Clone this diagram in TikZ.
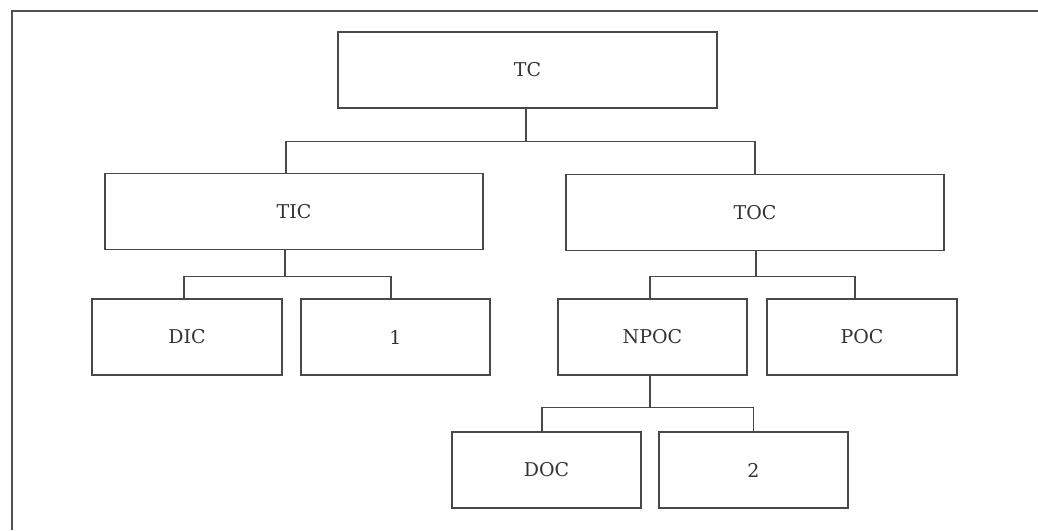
\documentclass[tikz,border=0pt]{standalone}
\usepackage{fontspec}
\setmainfont{DejaVu Serif}
\definecolor{framecol}{HTML}{505050}
\definecolor{boxcol}{HTML}{484848}
\definecolor{txtcol}{HTML}{333333}
\begin{document}
\begin{tikzpicture}[x=1pt,y=-1pt,
  box/.style={draw=boxcol,line width=1.2pt,inner sep=0pt,minimum height=76pt,
    font=\fontsize{19}{22}\selectfont,text=txtcol},
  conn/.style={draw=boxcol,line width=1.2pt}]
\useasboundingbox (0,0) rectangle (1038,530);
\draw[framecol,line width=2.5pt] (12,530) -- (12,11) -- (1038,11);
% nodes
\node[box,minimum width=379pt] (tc) at (527.5,70) {TC};
\node[box,minimum width=378pt] (tic) at (294,211.5) {TIC};
\node[box,minimum width=378pt] (toc) at (755,212.5) {TOC};
\node[box,minimum width=190pt] (dic) at (187,337) {DIC};
\node[box,minimum width=189pt] (one) at (395.5,337) {1};
\node[box,minimum width=189pt] (npoc) at (652.5,337) {NPOC};
\node[box,minimum width=190pt] (poc) at (862,337) {POC};
\node[box,minimum width=189pt] (doc) at (546.5,470) {DOC};
\node[box,minimum width=189pt] (two) at (753.5,470) {2};
% connectors
\draw[conn] ([xshift=-1.5pt]tc.south) -- ++(0,33) coordinate (b1);
\draw[conn] ([xshift=-8pt]tic.north) |- (b1) -| (toc.north);
\draw[conn] ([xshift=-9pt]tic.south) -- ++(0,26.5) coordinate (b2);
\draw[conn] ([xshift=-3pt]dic.north) |- (b2) -| ([xshift=-4.5pt]one.north);
\draw[conn] ([xshift=1pt]toc.south) -- ++(0,25.5) coordinate (b3);
\draw[conn] ([xshift=-2.5pt]npoc.north) |- (b3) -| ([xshift=-7pt]poc.north);
\draw[conn] ([xshift=-2.5pt]npoc.south) -- ++(0,32) coordinate (b4);
\draw[conn] ([xshift=-4.5pt]doc.north) |- (b4) -| ([xshift=0pt]two.north);
\end{tikzpicture}
\end{document}
